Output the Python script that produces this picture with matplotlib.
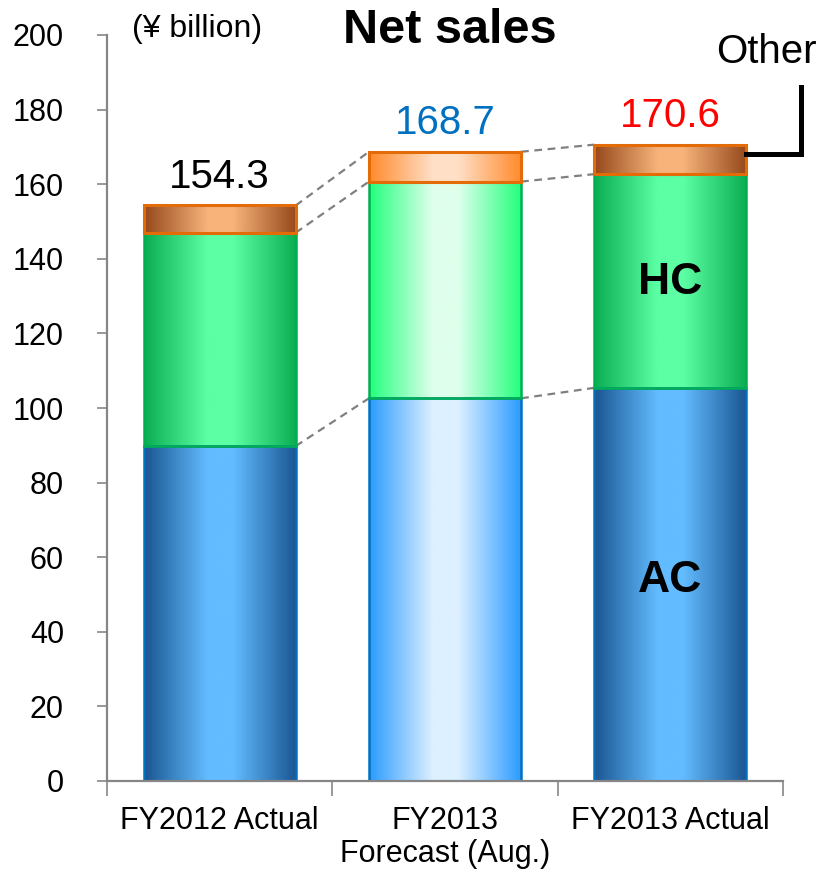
import matplotlib
matplotlib.use("Agg")
import matplotlib.pyplot as plt
import numpy as np
from matplotlib.colors import to_rgb

plt.rcParams['font.family'] = ['Liberation Sans', 'DejaVu Sans']

categories = ['FY2012 Actual', 'FY2013\nForecast (Aug.)', 'FY2013 Actual']
ac = [89.8, 102.6, 105.4]
hc = [57.2, 58.1, 57.3]
other = [7.3, 8.0, 7.9]
totals = ['154.3', '168.7', '170.6']
total_colors = ['black', '#0070C0', '#FF0000']
yticks = list(range(0, 201, 20))

# gradient colours (edge, centre) for actual bars and the forecast bar
actual_grad = {'AC': ('#1A5591', '#62BCFF'),
               'HC': ('#0AAD52', '#5CFFA4'),
               'Other': ('#96481B', '#F7B37A')}
forecast_grad = {'AC': ('#2A9BFF', '#DDF0FF'),
                 'HC': ('#22FF7C', '#DFFFEC'),
                 'Other': ('#FF8A2C', '#FFDFC6')}
borders = {'AC': '#0070C0', 'HC': '#00B050', 'Other': '#E36C09'}

fig = plt.figure(figsize=(8.28, 8.83), dpi=100)
ax = fig.add_axes([107 / 828, 102 / 883, 676 / 828, 746 / 883])

x = np.arange(len(categories))
width = 0.675


def gradient(edge, centre, n=256):
    t = np.linspace(0, 1, n)
    m = np.clip((1 - np.abs(2 * t - 1)) * 1.2, 0, 1)
    e = np.array(to_rgb(edge))
    c = np.array(to_rgb(centre))
    return (e[None, :] * (1 - m[:, None]) + c[None, :] * m[:, None])[None, :, :]


bottoms = np.zeros(len(categories))
tops = {}
for name, vals in [('AC', ac), ('HC', hc), ('Other', other)]:
    bars = ax.bar(x, vals, width, bottom=bottoms, facecolor='none',
                  edgecolor=borders[name], linewidth=1.8 if name != 'Other' else 2.2,
                  zorder=3)
    for i, p in enumerate(bars.patches):
        g = forecast_grad if i == 1 else actual_grad
        img = gradient(*g[name])
        ax.imshow(img, extent=(p.get_x(), p.get_x() + p.get_width(),
                               p.get_y(), p.get_y() + p.get_height()),
                  aspect='auto', interpolation='bilinear', zorder=2)
    bottoms = bottoms + np.array(vals)
    tops[name] = bottoms.copy()

# dashed connectors between segment tops
for name in ['AC', 'HC', 'Other']:
    t = tops[name]
    for i in range(len(categories) - 1):
        ax.plot([x[i] + width / 2, x[i + 1] - width / 2], [t[i], t[i + 1]],
                color='#808080', linestyle=(0, (3.5, 2.5)), linewidth=1.6, zorder=1)

# total labels
for i, s in enumerate(totals):
    ax.text(x[i], tops['Other'][i] + 4.8, s, ha='center', va='baseline',
            fontsize=29, color=total_colors[i])

# segment labels on the last bar
ax.text(x[2], ac[2] / 2 + 1, 'AC', ha='center', va='center', fontsize=32,
        fontweight='bold')
ax.text(x[2], ac[2] + hc[2] / 2 - 0.5, 'HC', ha='center', va='center', fontsize=32,
        fontweight='bold')

# "Other" callout
ax.plot([x[2] + width / 2, 2.58, 2.58], [168, 168, 186], color='black',
        linewidth=3.6, clip_on=False, solid_joinstyle='miter', zorder=4)
fig.text(716 / 828, 1 - 63 / 883, 'Other', ha='left', va='baseline', fontsize=29)

fig.text(450 / 828, 1 - 43 / 883, 'Net sales', ha='center', va='baseline',
         fontsize=35, fontweight='bold')
fig.text(132 / 828, 1 - 37 / 883, '(¥ billion)', ha='left', va='baseline',
         fontsize=23)

ax.set_xlim(-0.5, 2.5)
ax.set_ylim(0, 200)
ax.set_yticks(yticks)
ax.tick_params(axis='y', labelsize=22, length=7, width=1.2, color='#868686',
               pad=24, direction='out')
ax.set_xticks(x)
ax.set_xticklabels(categories, fontsize=22, linespacing=1.15)
ax.set_xticks([-0.5, 0.5, 1.5, 2.5], minor=True)
ax.tick_params(axis='x', which='major', length=0, pad=18)
ax.tick_params(axis='x', which='minor', length=11, width=1.2, color='#868686')

for side in ['top', 'right']:
    ax.spines[side].set_visible(False)
for side in ['left', 'bottom']:
    ax.spines[side].set_color('#868686')
    ax.spines[side].set_linewidth(1.6)
ax.spines['bottom'].set_zorder(5)

fig.savefig('out.png', dpi=100)
